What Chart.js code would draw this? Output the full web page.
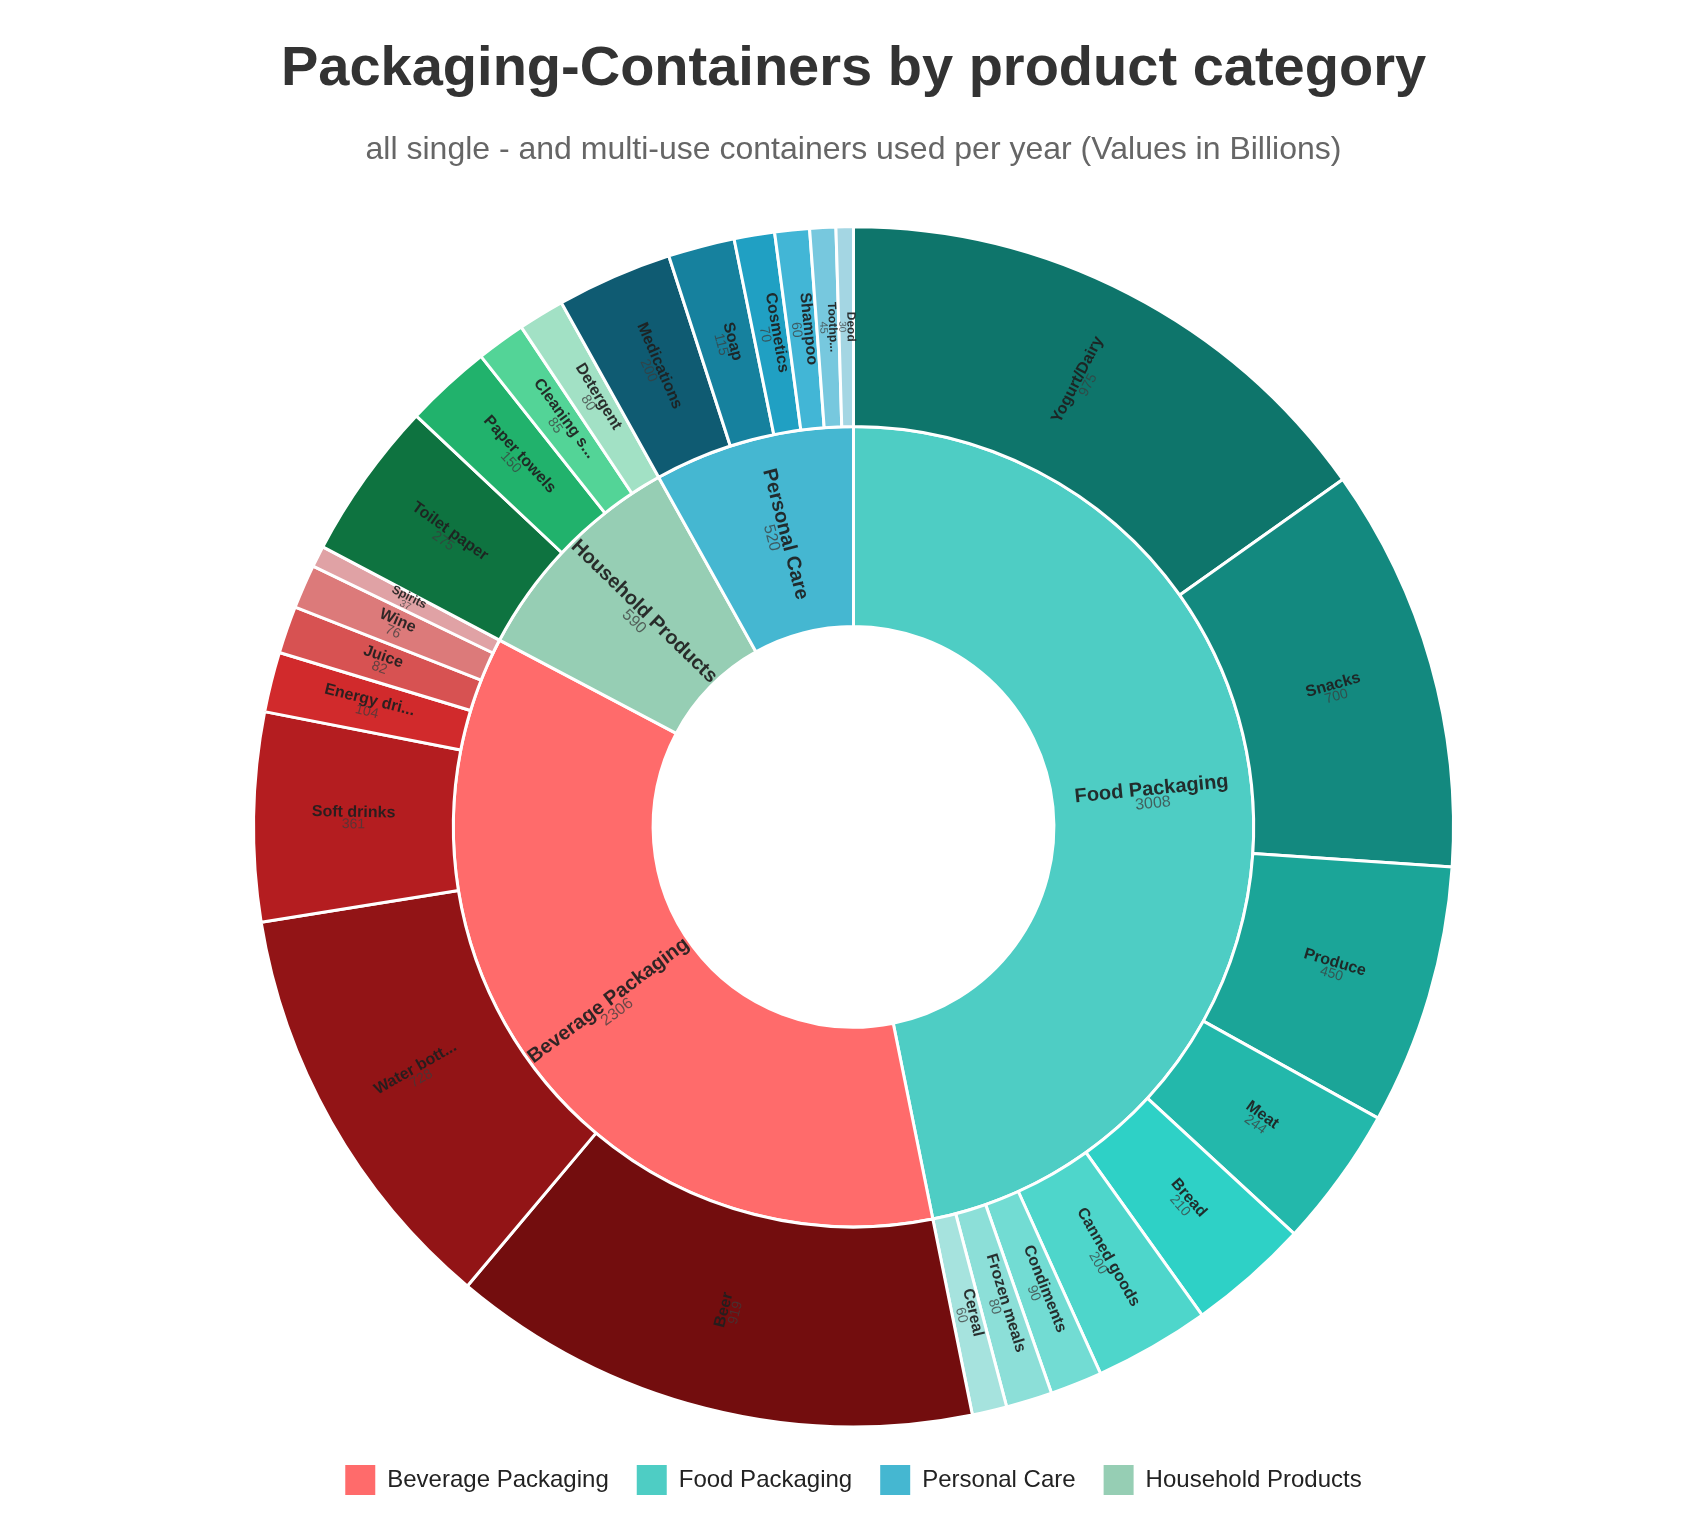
<!DOCTYPE html>
<html lang="en">
<head>
<meta charset="UTF-8">
<title>Packaging-Containers by product category</title>
<script src="https://cdn.jsdelivr.net/npm/chart.js"></script>
<style>
  html, body { margin: 0; padding: 0; background: #fff; }
  #wrap { width: 1707px; height: 1532px; position: relative; }
</style>
</head>
<body>
<div id="wrap"><canvas id="sunburst"></canvas></div>
<script>
  // categories (legend order) and their totals
  const categories = ['Beverage Packaging', 'Food Packaging', 'Personal Care', 'Household Products'];
  const categoryTotals = [2306, 3008, 520, 590];
  const categoryColors = ['#FF6B6B', '#4ECDC4', '#45B7D1', '#96CEB4'];

  // sub categories, per category
  const beverageItems = ['Beer', 'Water bott...', 'Soft drinks', 'Energy dri...', 'Juice', 'Wine', 'Spirits'];
  const beverageValues = [919, 728, 361, 104, 82, 76, 37];
  const beverageColors = ['#730D0E', '#921416', '#B41D20', '#D12A2C', '#D75252', '#DC7A7A', '#E0A2A5'];

  const foodItems = ['Yogurt/Dairy', 'Snacks', 'Produce', 'Meat', 'Bread', 'Canned goods', 'Condiments', 'Frozen meals', 'Cereal'];
  const foodValues = [975, 700, 450, 244, 210, 200, 90, 80, 60];
  const foodColors = ['#0E756B', '#13897F', '#1BA598', '#23B8AB', '#2ED1C6', '#4ED6CB', '#72DCD3', '#8CDFD8', '#A6E3DE'];

  const personalItems = ['Medications', 'Soap', 'Cosmetics', 'Shampoo', 'Toothp...', 'Deod'];
  const personalValues = [200, 115, 70, 60, 45, 30];
  const personalColors = ['#0F5B72', '#16819E', '#20A0C3', '#42B6D6', '#77C8DE', '#A4D6E3'];

  const householdItems = ['Toilet paper', 'Paper towels', 'Cleaning s...', 'Detergent'];
  const householdValues = [275, 150, 85, 80];
  const householdColors = ['#0E7340', '#21B26C', '#53D497', '#A2E1C5'];

  const subItems = [beverageItems, foodItems, personalItems, householdItems];
  const subValues = [beverageValues, foodValues, personalValues, householdValues];
  const subColors = [beverageColors, foodColors, personalColors, householdColors];

  // rings are drawn biggest category first, clockwise from the top
  const order = categories.map((c, i) => i).sort((a, b) => categoryTotals[b] - categoryTotals[a]);

  const innerNames = [], innerValues = [], innerColors = [];
  const outerNames = [], outerValues = [], outerColors = [];
  order.forEach(i => {
    innerNames.push(categories[i]);
    innerValues.push(categoryTotals[i]);
    innerColors.push(categoryColors[i]);
    subItems[i].forEach((n, j) => {
      outerNames.push(n);
      outerValues.push(subValues[i][j]);
      outerColors.push(subColors[i][j]);
    });
  });

  const FONT = '"Liberation Sans", Arial, Helvetica, sans-serif';
  Chart.defaults.font.family = FONT;

  // label + value written along the radius of every slice
  const sliceLabels = {
    id: 'sliceLabels',
    afterDatasetsDraw(chart) {
      const ctx = chart.ctx;
      chart.data.datasets.forEach((ds, di) => {
        const meta = chart.getDatasetMeta(di);
        const inner = di === 1;
        meta.data.forEach((arc, i) => {
          const p = arc.getProps(['x', 'y', 'startAngle', 'endAngle', 'innerRadius', 'outerRadius'], true);
          const mid = (p.startAngle + p.endAngle) / 2;
          const r = (p.innerRadius + p.outerRadius) / 2;
          const span = (p.endAngle - p.startAngle) * r;
          const size = inner ? 20 : Math.min(16, Math.max(12, span * 0.55));
          const valSize = inner ? 16 : Math.round(size * 0.87);
          let rot = mid;
          while (rot > Math.PI / 2) rot -= Math.PI;
          while (rot <= -Math.PI / 2) rot += Math.PI;
          ctx.save();
          ctx.translate(p.x + Math.cos(mid) * r, p.y + Math.sin(mid) * r);
          ctx.rotate(rot);
          ctx.textAlign = 'center';
          ctx.textBaseline = 'middle';
          ctx.font = 'bold ' + size + 'px ' + FONT;
          ctx.fillStyle = 'rgba(30,30,30,0.92)';
          ctx.fillText(ds.names[i], 0, -size * 0.38);
          ctx.font = valSize + 'px ' + FONT;
          ctx.fillStyle = 'rgba(60,60,60,0.75)';
          ctx.fillText(String(ds.data[i]), 0, valSize * 0.42);
          ctx.restore();
        });
      });
    }
  };

  new Chart(document.getElementById('sunburst'), {
    type: 'doughnut',
    data: {
      labels: outerNames,
      datasets: [
        {
          names: outerNames,
          data: outerValues,
          backgroundColor: outerColors,
          borderColor: '#ffffff',
          borderWidth: 3
        },
        {
          names: innerNames,
          data: innerValues,
          backgroundColor: innerColors,
          borderColor: '#ffffff',
          borderWidth: 3
        }
      ]
    },
    options: {
      responsive: true,
      maintainAspectRatio: false,
      animation: false,
      radius: 600,
      cutout: '33.4%',
      layout: { padding: { bottom: 27 } },
      plugins: {
        title: {
          display: true,
          text: 'Packaging-Containers by product category',
          color: '#333333',
          font: { size: 56, weight: 'bold' },
          padding: { top: 36, bottom: 0 }
        },
        subtitle: {
          display: true,
          text: 'all single - and multi-use containers used per year (Values in Billions)',
          color: '#666666',
          font: { size: 32 },
          padding: { top: 28, bottom: 47 }
        },
        legend: {
          position: 'bottom',
          onClick: null,
          labels: {
            boxWidth: 30,
            boxHeight: 30,
            useBorderRadius: true,
            borderRadius: 7,
            padding: 28,
            color: '#222222',
            font: { size: 24 },
            generateLabels: () => categories.map((c, i) => ({
              text: c,
              fillStyle: categoryColors[i],
              strokeStyle: categoryColors[i],
              lineWidth: 0,
              hidden: false,
              index: i,
              fontColor: '#222222'
            }))
          }
        },
        tooltip: { enabled: false }
      }
    },
    plugins: [sliceLabels]
  });
</script>
</body>
</html>
